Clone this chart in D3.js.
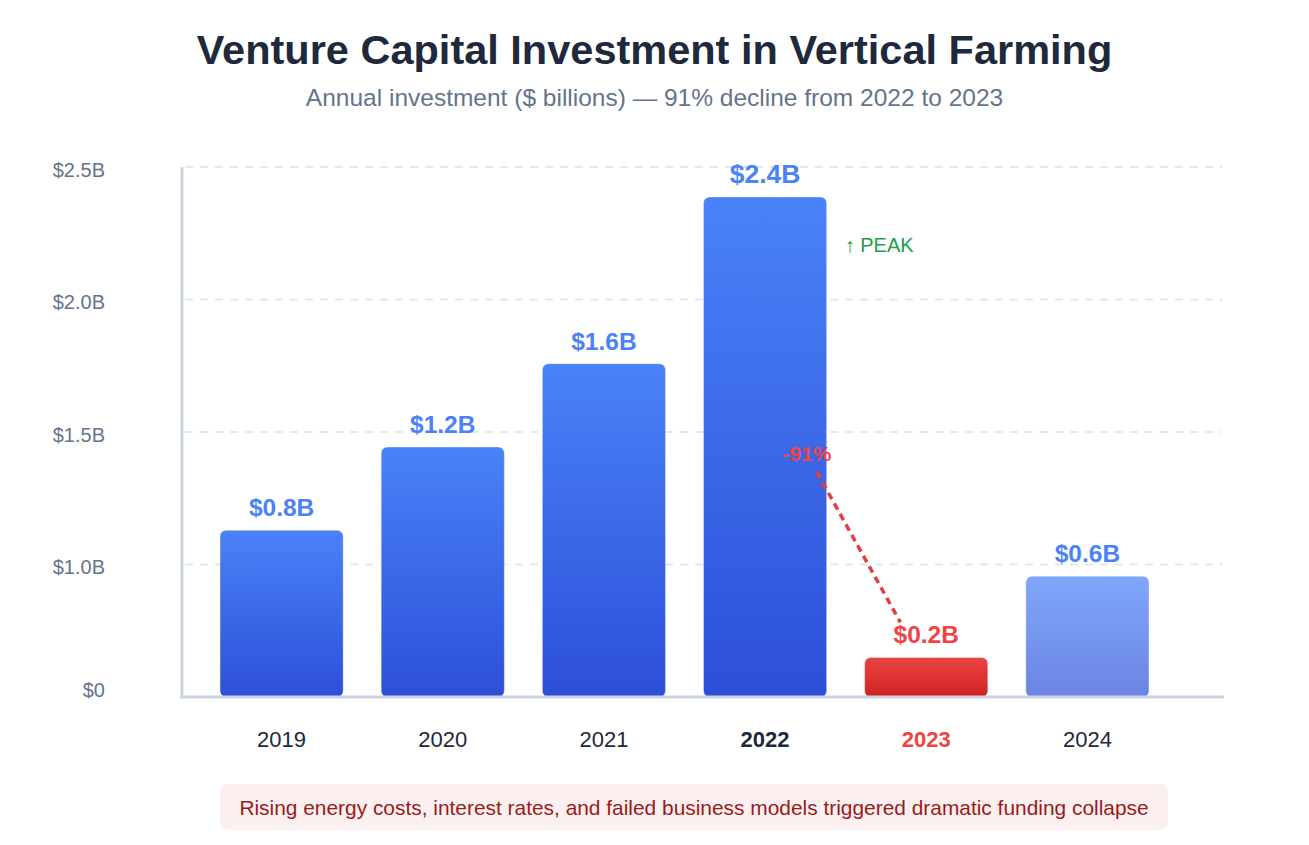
<!DOCTYPE html>
<html>
<head>
<meta charset="utf-8">
<title>Venture Capital Investment in Vertical Farming</title>
<script src="https://cdn.jsdelivr.net/npm/d3@7"></script>
<style>
  body { margin: 0; background: #fff; }
  svg { display: block; font-family: "Liberation Sans", Arial, Helvetica, sans-serif; }
</style>
</head>
<body>
<svg id="chart" width="1309" height="845"></svg>
<script>
// data
const years = ['2019', '2020', '2021', '2022', '2023', '2024'];
const investment = [0.8, 1.2, 1.6, 2.4, 0.19, 0.58]; // $ billions
const yTickLabels = ['$0', '$1.0B', '$1.5B', '$2.0B', '$2.5B'];
const peakYear = '2022';
const crashYear = '2023';
const lastYear = '2024';

const width = 1309;
const height = 845;
const margin = { top: 167, right: 87, bottom: 148, left: 182 };
const contentWidth = width - margin.left - margin.right;
const contentHeight = height - margin.top - margin.bottom;

const svg = d3.select('#chart');

// gradients
const defs = svg.append('defs');
function grad(id, top, bottom) {
  const g = defs.append('linearGradient').attr('id', id)
    .attr('x1', 0).attr('y1', 0).attr('x2', 0).attr('y2', 1);
  g.append('stop').attr('offset', '0%').attr('stop-color', top);
  g.append('stop').attr('offset', '100%').attr('stop-color', bottom);
}
grad('blueGrad', '#4a82f8', '#2c4fd8');
grad('redGrad', '#e84545', '#d02121');

// title + subtitle
svg.append('text')
  .attr('x', width / 2).attr('y', 64)
  .attr('text-anchor', 'middle')
  .attr('font-size', 41.5).attr('font-weight', 'bold')
  .attr('fill', '#1e293b')
  .text('Venture Capital Investment in Vertical Farming');

svg.append('text')
  .attr('x', width / 2).attr('y', 106)
  .attr('text-anchor', 'middle')
  .attr('font-size', 24.5)
  .attr('fill', '#64748b')
  .text('Annual investment ($ billions) \u2014 91% decline from 2022 to 2023');

const g = svg.append('g')
  .attr('transform', 'translate(' + margin.left + ',' + margin.top + ')');

// scales
const maxVal = d3.max(investment);
const yMax = maxVal * 1.06;

const xScale = d3.scaleBand()
  .domain(years)
  .range([0, 1005])
  .padding(0.236);

const yScale = d3.scaleLinear()
  .domain([0, yMax])
  .range([contentHeight, 0]);

const tickVals = yTickLabels.map((d, i) => yMax * i / (yTickLabels.length - 1));

// gridlines
g.append('g')
  .selectAll('line')
  .data(tickVals.slice(1))
  .enter()
  .append('line')
  .attr('x1', 3).attr('x2', contentWidth)
  .attr('y1', d => yScale(d)).attr('y2', d => yScale(d))
  .attr('stroke', '#e2e8f0')
  .attr('stroke-width', 2)
  .attr('stroke-dasharray', '8,7');

// y tick labels
g.append('g')
  .selectAll('text')
  .data(tickVals)
  .enter()
  .append('text')
  .attr('x', 105 - margin.left)
  .attr('y', (d, i) => yScale(d) + (i === 0 ? -7 : 2.5))
  .attr('dy', '0.35em')
  .attr('text-anchor', 'end')
  .attr('font-size', 20)
  .attr('fill', '#64748b')
  .text((d, i) => yTickLabels[i]);

// bars
const bars = years.map((y, i) => ({ year: y, value: investment[i] }));

g.append('g')
  .selectAll('rect')
  .data(bars)
  .enter()
  .append('rect')
  .attr('x', d => xScale(d.year))
  .attr('y', d => yScale(d.value))
  .attr('width', xScale.bandwidth())
  .attr('height', d => contentHeight - yScale(d.value))
  .attr('rx', 6)
  .attr('fill', d => d.year === crashYear ? 'url(#redGrad)' : 'url(#blueGrad)')
  .attr('fill-opacity', d => d.year === lastYear ? 0.7 : 1)
  .attr('stroke', 'rgba(255,255,255,0.35)')
  .attr('stroke-width', 1);

// axes lines
g.append('line')
  .attr('x1', 0).attr('x2', 0)
  .attr('y1', 0).attr('y2', contentHeight + 1.5)
  .attr('stroke', '#cbd5e1').attr('stroke-width', 3);

g.append('line')
  .attr('x1', -1.5).attr('x2', contentWidth + 2)
  .attr('y1', contentHeight).attr('y2', contentHeight)
  .attr('stroke', '#cbd5e1').attr('stroke-width', 3);

// value labels
g.append('g')
  .selectAll('text')
  .data(bars)
  .enter()
  .append('text')
  .attr('x', d => xScale(d.year) + xScale.bandwidth() / 2)
  .attr('y', d => yScale(d.value) - 14)
  .attr('text-anchor', 'middle')
  .attr('font-weight', 'bold')
  .attr('font-size', d => d.year === peakYear ? 26.5 : 24.5)
  .attr('fill', d => d.year === crashYear ? '#ef4444' : '#4b82f6')
  .text(d => '$' + d.value.toFixed(1) + 'B');

// year labels
g.append('g')
  .selectAll('text')
  .data(years)
  .enter()
  .append('text')
  .attr('x', d => xScale(d) + xScale.bandwidth() / 2)
  .attr('y', contentHeight + 50)
  .attr('text-anchor', 'middle')
  .attr('font-size', 22)
  .attr('font-weight', d => (d === peakYear || d === crashYear) ? 'bold' : 'normal')
  .attr('fill', d => d === crashYear ? '#ef4444' : '#1e293b')
  .text(d => d);

// peak note
const bw = xScale.bandwidth();
const peakVal = investment[years.indexOf(peakYear)];
const crashVal = investment[years.indexOf(crashYear)];

g.append('text')
  .attr('x', xScale(peakYear) + bw + 18)
  .attr('y', yScale(peakVal) + 55)
  .attr('font-size', 20)
  .attr('fill', '#22a045')
  .text('\u2191 PEAK');

// decline annotation
const x0 = xScale(peakYear) + bw * 0.92;
const y0 = yScale(peakVal * 0.45);
const x1 = xScale(crashYear) + bw * 0.29;
const y1 = yScale(crashVal) - 35;

g.append('line')
  .attr('x1', x0).attr('y1', y0)
  .attr('x2', x1).attr('y2', y1)
  .attr('stroke', '#e53e3e')
  .attr('stroke-width', 3.5)
  .attr('stroke-dasharray', '7,5');

g.append('text')
  .attr('x', xScale(peakYear) + bw * 0.84)
  .attr('y', y0 - 11)
  .attr('text-anchor', 'middle')
  .attr('font-size', 21)
  .attr('font-weight', 'bold')
  .attr('fill', '#ef4444')
  .text('-91%');

// footer note
svg.append('rect')
  .attr('x', 220).attr('y', 784)
  .attr('width', 948).attr('height', 46)
  .attr('rx', 8)
  .attr('fill', '#fcefef');

svg.append('text')
  .attr('x', 694).attr('y', 815)
  .attr('text-anchor', 'middle')
  .attr('font-size', 20.9)
  .attr('fill', '#991b1b')
  .text('Rising energy costs, interest rates, and failed business models triggered dramatic funding collapse');
</script>
</body>
</html>
